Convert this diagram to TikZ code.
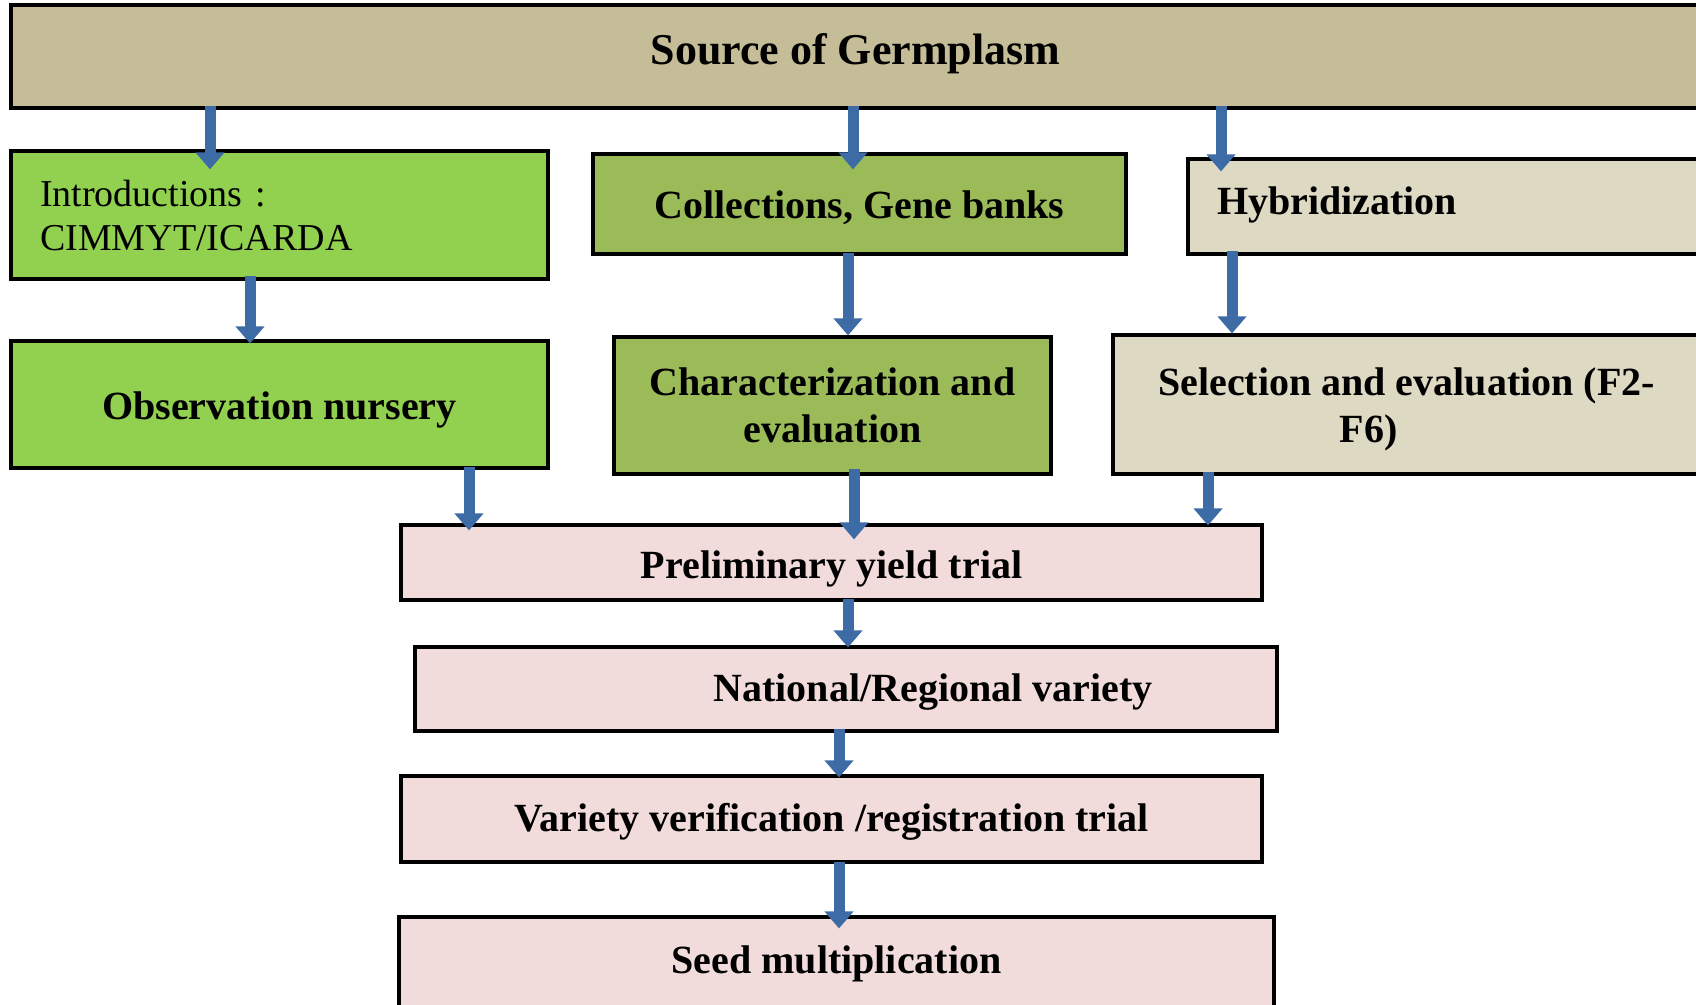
\documentclass[tikz,border=0pt]{standalone}
\usepackage{fontspec}
\setmainfont{Liberation Serif}
\usetikzlibrary{arrows.meta}
\definecolor{toptan}{HTML}{C4BD97}
\definecolor{brightgreen}{HTML}{92D050}
\definecolor{olivegreen}{HTML}{9BBB59}
\definecolor{lighttan}{HTML}{DDD9C3}
\definecolor{pinkbox}{HTML}{F2DCDB}
\definecolor{arrowblue}{HTML}{3D6BA6}
\newcommand{\vshifttext}[2]{\raisebox{#1}[\height][\depth]{#2}}
\tikzset{
  box/.style={draw=black, line width=3.2pt, inner sep=0pt, align=center,
    font=\fontsize{40}{47}\selectfont\bfseries},
  arr/.style={draw=arrowblue, line width=11pt,
    -{Triangle[width=28pt,length=17pt]}},
}
\begin{document}
\begin{tikzpicture}[x=1pt,y=-1pt]
\useasboundingbox (0,0) rectangle (1696,1004);
\clip (0,0) rectangle (1696,1004);
\fill[white] (0,0) rectangle (1696,1004);

% boxes
\node[box, fill=toptan, minimum width=1689pt, minimum height=103pt,
  font=\fontsize{44}{50}\selectfont\bfseries] (top) at (855.5,56.5) {\vshifttext{3pt}{Source of Germplasm}};
\node[box, fill=brightgreen, minimum width=537pt, minimum height=128pt,
  text width=479pt, align=left, font=\fontsize{38}{44}\selectfont] (intro) at (279.5,215) {Introductions :\\CIMMYT/ICARDA};
\node[box, fill=olivegreen, minimum width=533pt, minimum height=100pt] (coll) at (859.5,204) {\vshifttext{-4pt}{Collections, Gene banks}};
\node[box, fill=lighttan, minimum width=512pt, minimum height=95pt,
  text width=454pt, align=left] (hyb) at (1444,206.5) {\vshifttext{2pt}{Hybridization}};
\node[box, fill=brightgreen, minimum width=537pt, minimum height=127pt] (obs) at (279.5,404.5) {\vshifttext{-5pt}{Observation nursery}};
\node[box, fill=olivegreen, minimum width=437pt, minimum height=137pt] (char) at (832.5,405.5) {Characterization and\\evaluation};
\node[box, fill=lighttan, minimum width=587pt, minimum height=139pt] (sel) at (1406.5,404.5) {\vshifttext{-5pt}{\begin{tabular}{@{}c@{}}Selection and evaluation (F2-\\F6)\hspace*{76pt}\end{tabular}}};
\node[box, fill=pinkbox, minimum width=861pt, minimum height=75pt] (prelim) at (831.5,562.5) {\vshifttext{-6.5pt}{Preliminary yield trial}};
\node[box, fill=pinkbox, minimum width=862pt, minimum height=84pt] (nat) at (846,689) {\vshifttext{-3pt}{\hspace*{174pt}National/Regional variety}};
\node[box, fill=pinkbox, minimum width=861pt, minimum height=86pt] (var) at (831.5,819) {\vshifttext{-3pt}{Variety verification /registration trial}};
\node[box, fill=pinkbox, minimum width=875pt, minimum height=95pt] (seed) at (836.5,964.5) {\vshifttext{1pt}{Seed multiplication}};

% arrow x positions
\coordinate (xa) at (210,0);
\coordinate (xb) at (853,0);
\coordinate (xc) at (1221,0);
\coordinate (xd) at (250,0);
\coordinate (xe) at (848,0);
\coordinate (xf) at (1232,0);
\coordinate (xg) at (469,0);
\coordinate (xh) at (854,0);
\coordinate (xi) at (1208,0);
\coordinate (xj) at (848,0);
\coordinate (xk) at (839,0);
\coordinate (xl) at (839,0);

% connectors
\draw[arr, shorten <=-4pt, shorten >=-20pt] (top.south -| xa) -- (intro.north -| xa);
\draw[arr, shorten <=-4pt, shorten >=-17pt] (top.south -| xb) -- (coll.north -| xb);
\draw[arr, shorten <=-4pt, shorten >=-14pt] (top.south -| xc) -- (hyb.north -| xc);
\draw[arr, shorten <=-5pt, shorten >=-4pt] (intro.south -| xd) -- (obs.north -| xd);
\draw[arr, shorten <=-3pt, shorten >=0pt] (coll.south -| xe) -- (char.north -| xe);
\draw[arr, shorten <=-5pt, shorten >=0pt] (hyb.south -| xf) -- (sel.north -| xf);
\draw[arr, shorten <=-3pt, shorten >=-7pt] (obs.south -| xg) -- (prelim.north -| xg);
\draw[arr, shorten <=-7pt, shorten >=-16pt] (char.south -| xh) -- (prelim.north -| xh);
\draw[arr, shorten <=-4pt, shorten >=-2pt] (sel.south -| xi) -- (prelim.north -| xi);
\draw[arr, shorten <=-3pt, shorten >=-2pt] (prelim.south -| xj) -- (nat.north -| xj);
\draw[arr, shorten <=-4pt, shorten >=-3pt] (nat.south -| xk) -- (var.north -| xk);
\draw[arr, shorten <=-2pt, shorten >=-13pt] (var.south -| xl) -- (seed.north -| xl);
\end{tikzpicture}
\end{document}
